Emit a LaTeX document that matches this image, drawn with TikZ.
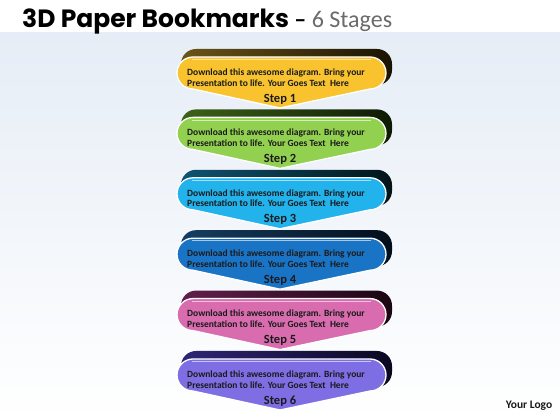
\documentclass[tikz,border=0pt]{standalone}
\usepackage{fontspec}
\setmainfont{Carlito}
\newfontfamily\titlefont{Poppins}
\definecolor{fA}{HTML}{F9C32F}\definecolor{bA}{HTML}{6A5418}\definecolor{dA}{HTML}{1A1303}
\definecolor{fB}{HTML}{92D050}\definecolor{bB}{HTML}{3E6218}\definecolor{dB}{HTML}{0E1A04}
\definecolor{fC}{HTML}{22B2EC}\definecolor{bC}{HTML}{0F5470}\definecolor{dC}{HTML}{021418}
\definecolor{fD}{HTML}{1A74C6}\definecolor{bD}{HTML}{163E62}\definecolor{dD}{HTML}{030E1A}
\definecolor{fE}{HTML}{D86CAE}\definecolor{bE}{HTML}{62204C}\definecolor{dE}{HTML}{1A0612}
\definecolor{fF}{HTML}{7E6EE4}\definecolor{bF}{HTML}{2E2676}\definecolor{dF}{HTML}{0A0820}
\definecolor{bgtop}{HTML}{E6EDF6}
\definecolor{txt}{HTML}{1A1A1A}
\tikzset{
  bodytext/.style={font=\fontsize{9.5}{10.8}\selectfont\bfseries, text=txt, align=left, anchor=west, inner sep=0pt},
  steplabel/.style={font=\fontsize{12.5}{13}\selectfont\bfseries, text=txt, inner sep=0pt},
  frontshape/.style={draw=white, line width=1.3pt},
}
\begin{document}
\begin{tikzpicture}[x=1pt,y=1pt]
\useasboundingbox (0,0) rectangle (560,420);
\shade[top color=bgtop, bottom color=white] (0,0) rectangle (560,388);
\fill[white] (0,388) rectangle (560,420);
\node[anchor=base west, inner sep=0pt] (title) at (22,392)
  {{\titlefont\bfseries\fontsize{25}{28}\selectfont 3D Paper Bookmarks}\fontsize{24}{28}\selectfont\bfseries\ –\ {\mdseries\color[HTML]{6B6B6B}6 Stages}};
\foreach \k/\fc/\bc/\dc [evaluate=\k as \d using 60.4*(\k-1)] in
  {1/fA/bA/dA, 2/fB/bB/dB, 3/fC/bC/dC, 4/fD/bD/dD, 5/fE/bE/dE, 6/fF/bF/dF}{
  \begin{scope}[yshift=-\d pt]
    \shade[left color=\bc, right color=\dc, rounded corners=15pt] (181,335) rectangle (392,371);
    \fill[\fc, frontshape]
      (193,363) -- (370,363) arc[start angle=90,end angle=0,radius=16pt]
      -- (386,347) arc[start angle=0,end angle=-90,radius=16pt]
      -- (280,312) -- (193,331) arc[start angle=270,end angle=180,radius=16pt]
      -- (177,347) arc[start angle=180,end angle=90,radius=16pt] -- cycle;
    \draw[white, opacity=0.6, line width=0.5pt] (192,360.5) -- (371,360.5);
    \node[bodytext] (t\k) at (187,342.5) {Download this awesome diagram. Bring your\\Presentation to life. Your Goes Text\ \ Here};
    \node[steplabel] (s\k) at (280,321) {Step \k};
  \end{scope}
}
\node[font=\fontsize{11.5}{13}\selectfont\bfseries, text=txt, inner sep=0pt] (logo) at (529,14) {Your Logo};
\end{tikzpicture}
\end{document}
